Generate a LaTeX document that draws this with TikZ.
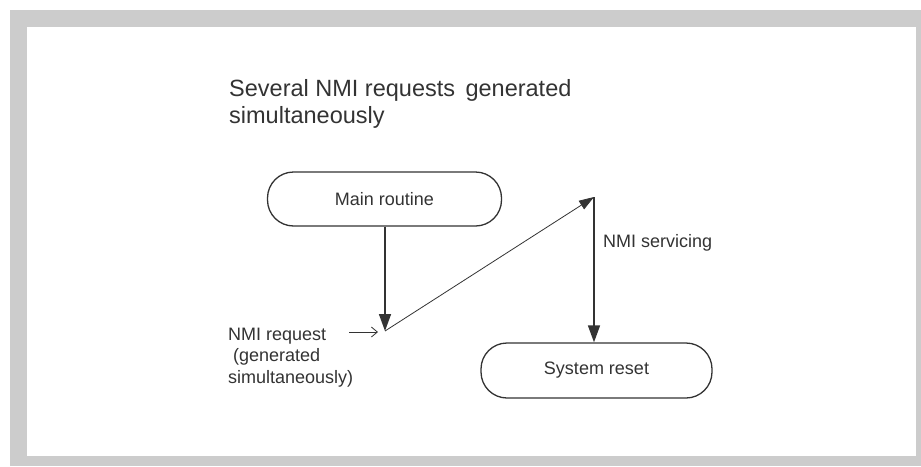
\documentclass[tikz,border=0pt]{standalone}
\usepackage{fontspec}
\setmainfont{Liberation Sans}
\usetikzlibrary{positioning}
\usetikzlibrary{calc}
\usetikzlibrary{arrows.meta}

\definecolor{framegray}{HTML}{CCCCCC}
\definecolor{inkgray}{HTML}{333333}

\tikzset{
    terminal/.style={draw=inkgray, line width=1.3pt, rounded corners=26pt, minimum width=234pt, minimum height=54pt, text=inkgray, font=\fontsize{18}{21}\selectfont},
    flow/.style={draw=inkgray, line width=1.6pt, -{Triangle[length=17pt, width=12pt]}},
    jump/.style={draw=inkgray, line width=0.8pt, -{Triangle[length=15pt, width=10pt]}},
    hint/.style={draw=inkgray, line width=0.8pt, -{Straight Barb[length=6pt, width=10pt]}},
    label/.style={text=inkgray, font=\fontsize{18}{21.5}\selectfont, inner sep=0pt}
}

\begin{document}
\begin{tikzpicture}[x=1pt, y=-1pt]
    \useasboundingbox (0,0) rectangle (921,466);
    \fill[framegray] (10,10) rectangle (921,466);
    \fill[white] (27,27) rectangle (916,456);

    % title (base = last line)
    \node[label, anchor=base west, align=left, font=\fontsize{23.5}{27}\selectfont] (title) at (229,123) {Several NMI requests\, generated\\simultaneously};

    % terminals
    \node[terminal] (main) at (384.5,199) {Main routine};
    \node[terminal, minimum width=231pt, minimum height=55pt] (reset) at (596.5,370.5) {System reset};

    \coordinate (req) at (385,331);
    \coordinate (svc) at (594,197);
    \coordinate (hintstart) at (349,332);

    \draw[flow] (main.south -| req) -- (req);
    \draw[jump] (req) -- (svc);
    \draw[flow] (svc) -- (svc |- reset.north);
    \draw[hint] (hintstart) -- ($(req)+(-7,1)$);

    % labels
    \node[label, anchor=base west, align=left] (reqtext) at (228,383) {NMI request\\\hspace{5pt}(generated\\simultaneously)};
    \node[label, anchor=base west] (svctext) at (603,247) {NMI servicing};
\end{tikzpicture}
\end{document}
